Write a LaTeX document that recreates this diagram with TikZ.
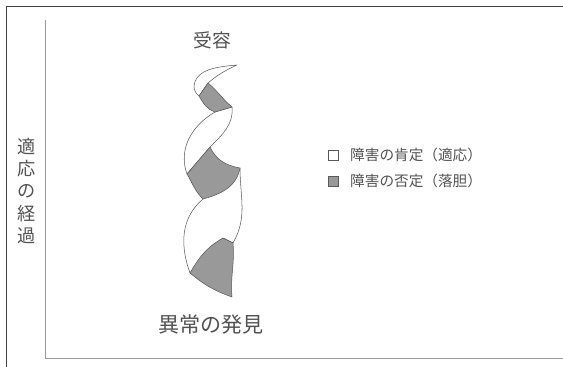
\documentclass[tikz,border=0pt]{standalone}
\usepackage{fontspec}
\newfontfamily\jp{Noto Sans CJK JP}
\usetikzlibrary{positioning}

\begin{document}
\begin{tikzpicture}[
		x=0.03cm, y=-0.03cm,
		every node/.style={font=\jp, text=black!68, inner sep=0pt},
		edge/.style={draw=black!65, line width=0.45pt, line join=round},
		face/.style={edge, fill=white},
		twist/.style={edge, fill=black!40},
		frame/.style={draw=black!75, line width=0.8pt},
		axis/.style={draw=black!40, line width=0.6pt},
		key/.style={draw=black!65, line width=0.5pt, minimum size=8.5pt, inner sep=0pt}
		]

	\useasboundingbox (0,0) rectangle (563,367);

	% frame and axes
	\draw[frame] (6,367) -- (6,6) -- (563,6);
	\draw[axis] (45,20) -- (45,358) -- (563,358);

	% ribbon
	\coordinate (t)   at (237,65);
	\coordinate (a1)  at (194,88);
	\coordinate (g1t) at (208,83);
	\coordinate (g1l) at (199,96);
	\coordinate (g1b) at (215,112);
	\coordinate (g1r) at (232,107);
	\coordinate (g2t) at (210,147);
	\coordinate (g2l) at (187,174);
	\coordinate (g2b) at (203,199);
	\coordinate (g2r) at (240,168);
	\coordinate (g3t) at (223,238);
	\coordinate (g3r) at (233,243);
	\coordinate (g3b) at (232,297);
	\coordinate (g3l) at (190,273);

	\draw[face] (t) to[out=185,in=90] (a1) to[out=-70,in=150] (g1l) -- (g1t) to[out=40,in=205] (t) -- cycle;
	\draw[face] (g1r) to[out=-85,in=45] (g2t) -- (g2l) to[out=110,in=210] (g1b) -- cycle;
	\draw[face] (g2r) to[out=-90,in=60] (g3r) -- (g3t) -- (g3l) to[out=110,in=220] (g2b) -- cycle;

	\draw[twist] (g1t) to[out=-40,in=140] (g1r) -- (g1b) to[out=160,in=-60] (g1l) -- cycle;
	\draw[twist] (g2t) to[out=-65,in=170] (g2r) to[out=-100,in=15] (g2b) to[out=135,in=-60] (g2l) -- cycle;
	\draw[twist] (g3t) -- (g3r) to[out=-85,in=95] (g3b) to[bend left=10] (g3l) to[out=60,in=210] (g3t) -- cycle;

	% labels
	\node[font=\jp\fontsize{16}{18}\selectfont] (accept) at (212,40) {受容};
	\node[font=\jp\fontsize{18}{20}\selectfont] (found) at (211,325) {異常の発見};
	\node[font=\jp\fontsize{15.5}{19}\selectfont, align=center] (course) at (27,191) {適\\応\\の\\経\\過};

	% legend
	\node[key] (k1) at (333,155) {};
	\node[key, fill=black!40] (k2) at (333,181) {};
	\node[font=\jp\fontsize{12.5}{14}\selectfont, right=10pt of k1] (l1) {障害の肯定（適応）};
	\node[font=\jp\fontsize{12.5}{14}\selectfont, right=10pt of k2] (l2) {障害の否定（落胆）};
\end{tikzpicture}
\end{document}
